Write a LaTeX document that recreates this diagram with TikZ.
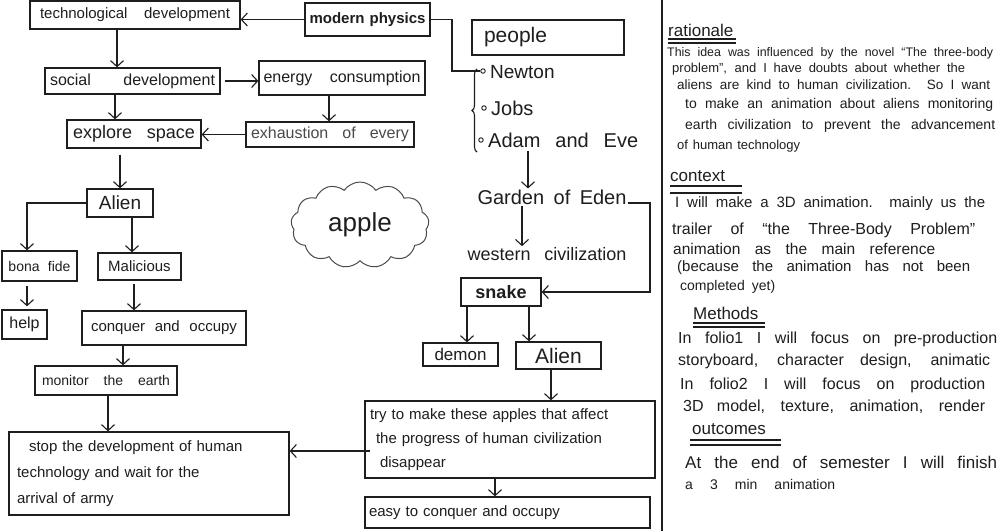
\documentclass[tikz,border=0pt]{standalone}
\usepackage{fontspec}
\setmainfont{Liberation Sans}
\usetikzlibrary{arrows.meta,shapes.symbols,decorations.pathreplacing}
\definecolor{ink}{HTML}{1E1E1E}
\definecolor{soft}{HTML}{4A4A4A}
\newcommand{\hwsz}[2]{\fontsize{#1}{#2}\selectfont}
\newcommand{\hwline}[2]{\makebox[#1pt][s]{#2}}
\begin{document}
\begin{tikzpicture}[x=1pt,y=-1pt,
 box/.style={draw=ink,line width=1.3pt,inner sep=0pt,text=ink},
 tx/.style={inner sep=1pt,text=ink},
 arr/.style={draw=ink,line width=1.1pt,-{Straight Barb[length=6pt,width=13pt]}},
 ln/.style={draw=ink,line width=1.1pt},
 rt/.style={anchor=west,inner sep=0pt,text=ink,font=\hwsz{13}{15}},
 hd/.style={anchor=west,inner sep=0pt,text=ink,font=\hwsz{17}{19}},
 ul/.style={draw=ink,line width=1.2pt},
 bullet/.style={circle,draw=ink,line width=0.9pt,minimum size=4.5pt,inner sep=0pt}]

\fill[white] (0,0) rectangle (999,531);
\useasboundingbox (0,0) rectangle (999,531);

% ---- left column boxes
\node[box,minimum width=210pt,minimum height=28pt,font=\hwsz{15}{18}] (tech) at (135,15) {\hwline{190}{technological development}};
\node[box,minimum width=125pt,minimum height=33pt,font=\bfseries\hwsz{15}{18}] (phys) at (367.5,19.5) {\hwline{116}{modern physics}};
\node[box,minimum width=175pt,minimum height=26pt,font=\hwsz{16}{18}] (social) at (132.5,81) {\hwline{165}{social development}};
\node[box,minimum width=166pt,minimum height=34pt,font=\hwsz{16}{18}] (energy) at (342,78) {\hwline{157}{energy consumption}};
\node[box,minimum width=134pt,minimum height=28pt,font=\hwsz{18}{20}] (explore) at (134,134) {\hwline{122}{explore space}};
\node[box,minimum width=168pt,minimum height=25pt,font=\hwsz{16}{18},text=soft] (exhaust) at (330,134.5) {\hwline{158}{exhaustion of every}};
\node[box,minimum width=66pt,minimum height=28pt,font=\hwsz{19}{20}] (alien1) at (120,203) {Alien};
\node[box,minimum width=75pt,minimum height=30pt,font=\hwsz{14}{16}] (bona) at (39.5,266) {\hwline{62}{bona fide}};
\node[box,minimum width=83pt,minimum height=27pt,font=\hwsz{15}{16}] (malic) at (139.5,266.5) {Malicious};
\node[box,minimum width=45pt,minimum height=29pt,font=\hwsz{16}{16}] (help) at (24.5,324.5) {help};
\node[box,minimum width=164pt,minimum height=34pt,font=\hwsz{15}{16}] (conquer) at (164,328) {\hwline{146}{conquer and occupy}};
\node[box,minimum width=142pt,minimum height=29pt,font=\hwsz{14}{16}] (monitor) at (106,380.5) {\hwline{128}{monitor the earth}};
\node[box,minimum width=280pt,minimum height=83pt,inner xsep=8pt,text width=264pt,align=left,font=\hwsz{15}{26}] (stop) at (149,473.5)
 {\hspace*{12pt}\hwline{248}{stop the development of human}\\ \hwline{247}{technology and wait for the}\\ \hwline{139}{arrival of army}};

% ---- middle column
\node[box,minimum width=290pt,minimum height=77pt,inner xsep=5pt,text width=280pt,align=left,font=\hwsz{15}{24}] (try) at (510,439.5)
 {\hwline{277}{try to make these apples that affect}\\ \hspace*{6pt}\hwline{271}{the progress of human civilization}\\ \hspace*{10pt}disappear};
\node[box,minimum width=285pt,minimum height=31pt,inner xsep=4pt,text width=277pt,align=left,font=\hwsz{15}{16}] (easy) at (507.5,512.5) {\hwline{252}{easy to conquer and occupy}};
\node[box,minimum width=152pt,minimum height=35pt,inner xsep=12pt,text width=128pt,align=left,font=\hwsz{21}{22}] (people) at (548,37.5) {people};
\node[box,minimum width=80pt,minimum height=28pt,font=\bfseries\hwsz{18}{20}] (snake) at (501,292) {snake};
\node[box,minimum width=75pt,minimum height=23pt,font=\hwsz{17}{18}] (demon) at (460.5,354.5) {demon};
\node[box,minimum width=85pt,minimum height=27pt,font=\hwsz{21}{22}] (alien2) at (558.5,355.5) {Alien};

\node[tx,font=\hwsz{20}{22}] (garden) at (552,197) {\hwline{149}{Garden of Eden}};
\node[tx,font=\hwsz{18}{20}] (western) at (547,254) {\hwline{159}{western civilization}};

\node[bullet] (b1) at (483,71) {};
\node[bullet] (b2) at (484,108) {};
\node[bullet] (b3) at (481,140) {};
\node[tx,anchor=west,font=\hwsz{19}{20}] (newton) at (489,72) {Newton};
\node[tx,anchor=west,font=\hwsz{20}{22}] (jobs) at (490,108) {Jobs};
\node[tx,anchor=west,font=\hwsz{20}{22}] (adam) at (487,140) {\hwline{150}{Adam and Eve}};
\coordinate (brt) at (477,69);
\coordinate (brb) at (477,152);
\draw[ln,decorate,decoration={brace,amplitude=5pt}] (brb) -- (brt);

\node[cloud,draw=soft,line width=1pt,cloud puffs=13,cloud puff arc=110,aspect=1.6,minimum width=138pt,minimum height=86pt,font=\hwsz{26}{28},text=ink] (apple) at (360,225) {apple};

% ---- connectors
\draw[arr] (phys.west) -- (phys.west -| tech.east);
\draw[arr] (117,0 |- tech.south) -- (117,0 |- social.north);
\draw[arr,shorten <=4pt] (social.east) -- (social.east -| energy.west);
\draw[arr] (115,0 |- social.south) -- (115,0 |- explore.north);
\draw[arr] (329,0 |- energy.south) -- (329,0 |- exhaust.north);
\draw[arr] (exhaust.west) -- (exhaust.west -| explore.east);
\draw[arr,shorten <=6pt] (120,0 |- explore.south) -- (120,0 |- alien1.north);
\draw[arr] (alien1.west) -| (27,0 |- bona.north);
\draw[arr] (132,0 |- alien1.south) -- (132,0 |- malic.north);
\draw[arr,shorten <=4pt,shorten >=3pt] (27,0 |- bona.south) -- (27,0 |- help.north);
\draw[arr,shorten <=3pt] (134,0 |- malic.south) -- (134,0 |- conquer.north);
\draw[arr] (123,0 |- conquer.south) -- (123,0 |- monitor.north);
\draw[arr] (108,0 |- monitor.south) -- (108,0 |- stop.north);
\draw[arr,shorten <=-6pt] (try.west |- 0,451) -- (stop.east |- 0,451);
\draw[arr] (495,0 |- try.south) -- (495,0 |- easy.north);
\draw[ln] (phys.east) -| (452,0 |- b1) -- (b1.west);
\draw[arr,shorten <=2pt] (528,0 |- adam.south) -- (528,0 |- garden.north);
\draw[arr] (522,0 |- garden.south) -- (522,0 |- western.north);
\draw[arr] ([yshift=-6pt]garden.east) -| (650,0 |- snake.east) -- (snake.east);
\draw[arr] (467,0 |- snake.south) -- (467,0 |- demon.north);
\draw[arr] (529,0 |- snake.south) -- (529,0 |- alien2.north);
\draw[arr] (551,0 |- alien2.south) -- (551,0 |- try.north);

% ---- separator
\draw[ink,line width=2.5pt] (662,0) -- (662,531);

% ---- right column
\node[hd] (hr) at (668,30) {rationale};
\draw[ul] (668,39) -- (736,39);
\draw[ul] (668,43) -- (736,43);
\node[rt,font=\hwsz{12.4}{15}] (r1) at (667,53) {\hwline{326}{This idea was influenced by the novel ``The three-body}};
\node[rt] (r2) at (672,69) {\hwline{293}{problem'', and I have doubts about whether the}};
\node[rt,font=\hwsz{13.5}{15}] (r3) at (677,85) {\hwline{313}{aliens are kind to human civilization. So I want}};
\node[rt,font=\hwsz{14}{16}] (r4) at (685,105) {\hwline{308}{to make an animation about aliens monitoring}};
\node[rt,font=\hwsz{14}{16}] (r5) at (685,126) {\hwline{310}{earth civilization to prevent the advancement}};
\node[rt] (r6) at (677,146) {\hwline{123}{of human technology}};

\node[hd] (hc) at (670,176) {context};
\draw[ul] (670,186) -- (742,186);
\draw[ul] (670,193) -- (742,193);
\node[rt,font=\hwsz{15}{17}] (c1) at (675,204) {\hwline{310}{I will make a 3D animation. mainly us the}};
\node[rt,font=\hwsz{16}{18}] (c2) at (672,230) {\hwline{303}{trailer of ``the Three-Body Problem''}};
\node[rt,font=\hwsz{15.5}{17}] (c3) at (673,249) {\hwline{262}{animation as the main reference}};
\node[rt,font=\hwsz{15}{17}] (c4) at (677,268) {\hwline{293}{(because the animation has not been}};
\node[rt,font=\hwsz{14}{16}] (c5) at (680,287) {\hwline{95}{completed yet)}};

\node[hd] (hm) at (693,313) {Methods};
\draw[ul] (693,323) -- (765,323);
\draw[ul] (693,327) -- (765,327);
\node[rt,font=\hwsz{16}{18}] (m1) at (678,339) {\hwline{319}{In folio1 I will focus on pre-production}};
\node[rt,font=\hwsz{16}{18}] (m2) at (678,361) {\hwline{312}{storyboard, character design, animatic}};
\node[rt,font=\hwsz{16}{18}] (m3) at (680,385) {\hwline{305}{In folio2 I will focus on production}};
\node[rt,font=\hwsz{16}{18}] (m4) at (683,407) {\hwline{302}{3D model, texture, animation, render}};

\node[hd] (ho) at (692,429) {outcomes};
\draw[ul] (690,440) -- (781,440);
\draw[ul] (690,445) -- (781,445);
\node[rt,font=\hwsz{17}{19}] (o1) at (685,462) {\hwline{312}{At the end of semester I will finish}};
\node[rt,font=\hwsz{14}{16}] (o2) at (685,484) {\hwline{150}{a 3 min animation}};
\end{tikzpicture}
\end{document}
